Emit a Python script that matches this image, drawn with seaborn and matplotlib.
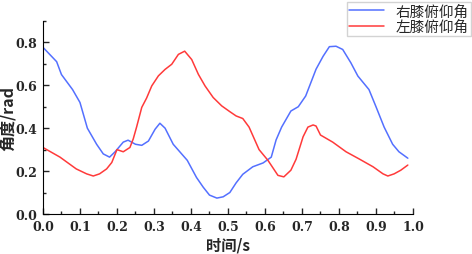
import pandas as pd
import seaborn as sns
import matplotlib.pyplot as plt
from matplotlib.ticker import MultipleLocator

# right knee (blue)
t_right = [0.0, 0.037, 0.05, 0.08, 0.1, 0.12, 0.145, 0.163, 0.18, 0.195, 0.217, 0.23, 0.25,
           0.267, 0.285, 0.303, 0.316, 0.33, 0.352, 0.39, 0.415, 0.433, 0.45, 0.47, 0.487,
           0.505, 0.522, 0.54, 0.567, 0.595, 0.617, 0.63, 0.645, 0.67, 0.69, 0.71, 0.738,
           0.757, 0.774, 0.792, 0.81, 0.832, 0.851, 0.881, 0.9, 0.922, 0.945, 0.962, 0.986]
right_knee = [0.777, 0.71, 0.65, 0.58, 0.52, 0.40, 0.325, 0.28, 0.265, 0.29, 0.335, 0.344, 0.325,
              0.32, 0.34, 0.395, 0.423, 0.4, 0.325, 0.25, 0.17, 0.125, 0.088, 0.074, 0.08,
              0.1, 0.145, 0.185, 0.22, 0.238, 0.265, 0.345, 0.405, 0.48, 0.50, 0.55, 0.675,
              0.735, 0.78, 0.782, 0.767, 0.705, 0.643, 0.58, 0.50, 0.405, 0.325, 0.29, 0.26]

# left knee (red)
t_left = [0.0, 0.046, 0.09, 0.118, 0.136, 0.153, 0.172, 0.186, 0.2, 0.217, 0.235, 0.244, 0.253,
          0.267, 0.28, 0.294, 0.312, 0.33, 0.348, 0.366, 0.383, 0.402, 0.42, 0.438, 0.46,
          0.483, 0.505, 0.522, 0.54, 0.557, 0.584, 0.608, 0.635, 0.651, 0.67, 0.684, 0.703,
          0.716, 0.73, 0.738, 0.75, 0.783, 0.819, 0.854, 0.892, 0.919, 0.932, 0.949, 0.967, 0.986]
left_knee = [0.31, 0.265, 0.21, 0.187, 0.177, 0.187, 0.21, 0.24, 0.30, 0.29, 0.31, 0.35, 0.405,
             0.497, 0.54, 0.597, 0.644, 0.674, 0.698, 0.744, 0.759, 0.72, 0.651, 0.597, 0.543,
             0.504, 0.477, 0.457, 0.445, 0.405, 0.30, 0.25, 0.18, 0.173, 0.204, 0.255, 0.36,
             0.405, 0.415, 0.41, 0.368, 0.335, 0.29, 0.257, 0.22, 0.187, 0.177, 0.187, 0.204, 0.228]

x_ticks = [0.0, 0.1, 0.2, 0.3, 0.4, 0.5, 0.6, 0.7, 0.8, 0.9, 1.0]
y_ticks = [0.0, 0.2, 0.4, 0.6, 0.8]

sns.set_style("ticks")
plt.rcParams['font.family'] = ['Noto Sans CJK SC', 'DejaVu Sans']

df_right = pd.DataFrame({"t": t_right, "angle": right_knee})
df_left = pd.DataFrame({"t": t_left, "angle": left_knee})

fig = plt.figure(figsize=(4.72, 2.55), dpi=100)
ax = fig.add_axes([0.091, 0.157, 0.784, 0.757])
sns.lineplot(x="t", y="angle", data=df_right, color="#5470ff", linewidth=1.1, label="右膝俯仰角", ax=ax)
sns.lineplot(x="t", y="angle", data=df_left, color="#ff3a3a", linewidth=1.1, label="左膝俯仰角", ax=ax)

ax.set_xlim(0, 1.0)
ax.set_ylim(0, 0.9)
ax.set_xticks(x_ticks)
ax.set_yticks(y_ticks)
ax.xaxis.set_minor_locator(MultipleLocator(0.05))
ax.yaxis.set_minor_locator(MultipleLocator(0.1))
ax.tick_params(which="major", direction="in", length=4, width=1, labelsize=9, pad=4)
ax.tick_params(which="minor", direction="in", length=2.5, width=1)
ax.set_xticklabels([f"{v:.1f}" for v in x_ticks], fontweight="bold", fontfamily="DejaVu Serif")
ax.set_yticklabels([f"{v:.1f}" for v in y_ticks], fontweight="bold", fontfamily="DejaVu Serif")
sns.despine(ax=ax)
for s in ["left", "bottom"]:
    ax.spines[s].set_color("black")

ax.set_xlabel("时间/s", fontsize=11, fontweight="bold", va="center")
ax.set_ylabel("角度/rad", fontsize=11.5, fontweight="bold", va="center")
ax.xaxis.set_label_coords(0.5, -0.16)
ax.yaxis.set_label_coords(-0.095, 0.5)

ax.get_legend().remove()
handles, labels = ax.get_legend_handles_labels()
leg = fig.legend(handles, labels, loc="upper right", bbox_to_anchor=(471 / 472, 252 / 255),
                 fontsize=10.5, frameon=True, fancybox=False, edgecolor="#c8c8c8", borderpad=0.15,
                 labelspacing=0.1, handlelength=2.4, handletextpad=0.8, borderaxespad=0)
leg.get_frame().set_linewidth(1)

fig.savefig("out.png", dpi=100)
